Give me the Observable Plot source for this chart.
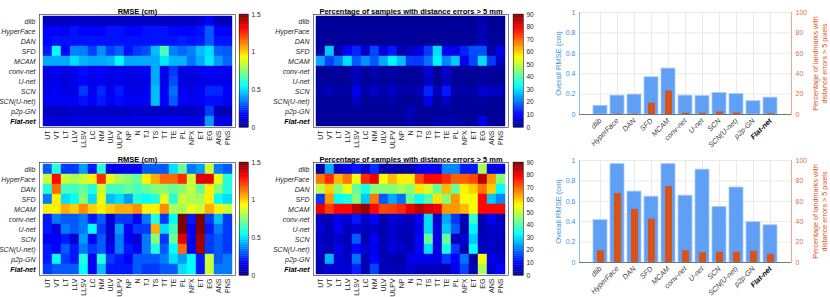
<!DOCTYPE html>
<html><head><meta charset="utf-8">
<script src="https://cdn.jsdelivr.net/npm/d3@7"></script>
<script src="https://cdn.jsdelivr.net/npm/@observablehq/plot@0.6"></script>
<style>
body{margin:0;background:#fff;}
#root{position:relative;width:830px;height:297px;overflow:hidden;}
#root svg{position:absolute;left:0;top:0;overflow:visible;}
</style></head><body><div id="root"></div>
<script>
const landmarks = ["UT","VT","LT","LLV","LLSV","LC","NM","ULV","ULPV","NP","N","TJ","TS","TT","TE","PL","NPX","ET","EG","ANS","PNS"];
const methods = ["dlib","HyperFace","DAN","SFD","MCAM","conv-net","U-net","SCN","SCN(U-net)","p2p-GN","Flat-net"];

// Top row (dataset A)
const rmseA = [
 [0.07,0.07,0.07,0.09,0.09,0.08,0.08,0.08,0.08,0.08,0.08,0.08,0.08,0.08,0.08,0.08,0.08,0.1,0.16,0.06,0.06],
 [0.16,0.17,0.15,0.19,0.17,0.17,0.17,0.19,0.19,0.17,0.17,0.19,0.19,0.19,0.17,0.17,0.17,0.19,0.3,0.17,0.17],
 [0.17,0.19,0.19,0.19,0.19,0.19,0.19,0.19,0.19,0.19,0.19,0.19,0.19,0.19,0.19,0.21,0.19,0.2,0.3,0.19,0.19],
 [0.2,0.55,0.17,0.36,0.36,0.26,0.38,0.26,0.31,0.19,0.25,0.28,0.45,0.66,0.36,0.32,0.36,0.45,0.5,0.31,0.3],
 [0.42,0.42,0.42,0.5,0.44,0.42,0.42,0.44,0.55,0.42,0.42,0.42,0.42,0.52,0.44,0.44,0.34,0.42,0.52,0.4,0.32],
 [0.13,0.15,0.12,0.14,0.18,0.14,0.16,0.13,0.14,0.13,0.13,0.15,0.42,0.14,0.25,0.13,0.12,0.14,0.16,0.14,0.14],
 [0.12,0.14,0.11,0.13,0.17,0.13,0.15,0.12,0.14,0.12,0.12,0.13,0.42,0.13,0.28,0.12,0.11,0.13,0.14,0.13,0.13],
 [0.14,0.15,0.12,0.14,0.25,0.14,0.22,0.14,0.2,0.13,0.13,0.15,0.45,0.15,0.33,0.14,0.13,0.15,0.22,0.22,0.16],
 [0.15,0.16,0.15,0.15,0.19,0.15,0.2,0.15,0.18,0.15,0.15,0.15,0.45,0.16,0.3,0.15,0.14,0.16,0.18,0.18,0.16],
 [0.07,0.07,0.08,0.1,0.09,0.08,0.09,0.08,0.08,0.08,0.1,0.08,0.08,0.08,0.07,0.08,0.08,0.08,0.25,0.06,0.06],
 [0.11,0.11,0.09,0.12,0.12,0.11,0.12,0.11,0.12,0.11,0.12,0.12,0.12,0.14,0.14,0.14,0.12,0.13,0.4,0.12,0.12]
];
const pctA = [
 [1,1,1,1,1,1,1,1,1,1,1,1,1,1,1,1,1,1,3,1,1],
 [1,1,1,1,1,1,1,1,1,1,1,1,1,1,1,1,1,1,4,1,1],
 [1,1,1,1,1,1,1,1,1,1,1,1,1,1,1,1,1,1,4,1,1],
 [2,28,2,10,13,5,16,7,12,2,5,7,15,30,10,8,13,17,17,2,8],
 [25,16,21,30,18,23,18,25,32,27,15,15,20,32,22,28,8,16,30,15,5],
 [1,1,1,1,4,1,3,1,2,1,1,1,6,1,5,1,1,1,1,1,1],
 [1,1,1,1,4,1,2,1,2,1,1,1,5,1,4,1,1,1,1,1,1],
 [2,4,2,2,8,2,5,2,5,2,2,4,13,4,12,2,2,2,6,5,4],
 [1,1,1,1,5,1,2,1,3,1,1,1,8,1,5,1,1,1,2,1,1],
 [1,1,1,1,1,1,1,1,1,1,4,1,1,1,1,1,1,1,1,1,1],
 [1,1,1,1,1,1,1,1,1,1,3,1,1,3,3,3,1,1,8,1,1]
];
const overallRmseA = [0.085,0.185,0.195,0.365,0.45,0.185,0.18,0.21,0.2,0.13,0.165];
const overallPctA = [0,0.5,0.5,11,23,1.2,1.2,2.5,1.5,0,0.8];

// Bottom row (dataset B)
const rmseB = [
 [0.3,0.6,0.25,0.25,0.4,0.2,0.6,0.12,0.15,0.15,0.15,0.3,0.3,0.3,0.5,0.7,0.35,0.4,0.85,0.35,0.3],
 [0.85,1.3,0.85,0.8,0.85,0.95,1.25,0.9,0.8,0.75,0.7,0.95,1.05,1.15,1.15,1.25,0.85,1.35,1.35,0.9,0.6],
 [0.6,1.15,0.65,0.65,0.7,0.6,0.85,0.65,0.65,0.7,0.65,0.7,0.75,0.75,0.7,0.75,0.85,0.7,0.95,0.75,0.6],
 [0.35,0.95,0.5,0.55,0.75,0.5,0.9,0.45,0.5,0.4,0.6,0.55,0.6,0.9,0.6,0.85,0.8,0.8,0.95,0.55,0.5],
 [0.95,0.95,1.05,1.0,1.1,1.0,0.95,1.0,1.05,1.05,1.1,0.95,0.95,1.1,0.8,0.8,0.9,0.85,1.05,0.95,0.85],
 [0.2,0.35,0.3,0.3,0.35,0.2,0.3,0.1,0.25,0.25,0.15,0.35,0.6,0.25,0.55,1.5,0.2,1.5,0.25,0.45,0.25],
 [0.2,0.12,0.35,0.3,0.35,0.55,0.25,0.1,0.4,0.15,0.25,0.25,1.05,0.5,0.65,1.5,0.15,1.5,0.2,0.35,0.25],
 [0.15,0.15,0.2,0.1,0.4,0.15,0.3,0.1,0.35,0.15,0.1,0.35,0.75,0.25,0.7,1.35,0.15,1.45,0.25,0.3,0.25],
 [0.2,0.15,0.3,0.2,0.35,0.25,0.3,0.15,0.35,0.2,0.15,0.35,0.6,0.3,0.55,1.15,0.15,1.45,0.25,0.3,0.25],
 [0.2,0.55,0.25,0.2,0.6,0.15,0.6,0.25,0.2,0.15,0.3,0.3,0.3,0.35,0.5,0.4,0.55,0.2,0.85,0.3,0.35],
 [0.25,0.3,0.3,0.3,0.55,0.15,0.45,0.2,0.2,0.2,0.3,0.25,0.25,0.3,0.3,0.5,0.55,0.2,0.85,0.35,0.35]
];
const pctB = [
 [2,25,5,8,12,5,14,3,3,2,3,8,10,8,22,22,12,12,48,8,8],
 [68,75,62,68,55,75,80,55,62,57,57,72,78,78,75,70,70,72,85,65,45],
 [50,60,45,55,42,35,45,45,45,48,45,58,52,42,62,42,57,60,68,60,33],
 [15,65,33,35,45,28,68,18,25,20,42,33,40,58,45,65,55,55,78,28,22],
 [80,73,78,78,85,88,78,72,73,75,80,85,82,80,65,65,62,55,78,78,78],
 [4,4,8,6,12,5,10,3,6,5,4,10,30,5,25,15,4,38,3,10,4],
 [6,3,10,4,6,4,5,3,6,4,4,8,30,6,28,18,3,32,3,5,5],
 [4,4,5,4,18,3,10,3,6,4,3,10,42,8,42,4,6,28,4,5,4],
 [5,3,8,4,10,6,8,3,7,5,4,10,30,6,35,15,3,33,4,5,4],
 [4,26,6,5,20,3,10,4,3,2,8,8,8,8,15,10,20,2,55,8,6],
 [3,6,6,6,13,3,16,4,4,4,6,4,4,4,3,8,16,3,48,6,10]
];
const overallRmseB = [0.415,0.965,0.695,0.645,0.965,0.655,0.91,0.545,0.735,0.395,0.365];
const overallPctB = [11.5,67.5,52,42.5,74.5,11.5,9.5,10,10,11,8];

const rmseTicksHM = [0,0.5,1,1.5];
const pctTicksHM = [0,10,20,30,40,50,60,70,80,90];
const rmseTicksBar = [0,0.2,0.4,0.6,0.8,1];
const pctTicksBar = [0,20,40,60,80,100];

const W = 830, H = 297;
const root = document.getElementById("root");
const FONT = "'Liberation Sans', Arial, sans-serif";
const style = {background:"transparent", fontFamily: FONT, fontSize:"7px", overflow:"visible", color:"#262626"};
const jetStops = [0,0.11,0.365,0.619,0.873,1];
const jetColors = ["#00008f","#0000ff","#00ffff","#ffff00","#ff0000","#800000"];
const jet = vmax => ({type:"linear", domain: jetStops.map(s=>s*vmax), range: jetColors, interpolate:"rgb", clamp:true});
const margins = (x0,x1,y0,y1) => ({width:W,height:H,marginLeft:x0,marginRight:W-x1,marginTop:y0,marginBottom:H-y1});
const fmt = d => String(d);

function heatmap(values, vmax, title, x0, x1, y0, y1) {
  const data = [];
  methods.forEach((m,i)=>landmarks.forEach((l,j)=>data.push({method:m, landmark:l, value:values[i][j]})));
  root.append(Plot.plot({
    ...margins(x0,x1,y0,y1), style,
    x:{domain:landmarks, padding:0, axis:null},
    y:{domain:methods, padding:0, axis:null},
    color: jet(vmax),
    marks:[
      Plot.cell(data,{x:"landmark", y:"method", fill:"value", stroke:"value", strokeWidth:0.4}),
      Plot.frame({stroke:"#262626", strokeWidth:0.6}),
      Plot.axisX({tickRotate:-90, tickSize:0, tickPadding:3, fontSize:7, label:null, fill:"#262626"}),
      Plot.axisY({ticks:methods.filter(m=>m!=="Flat-net"), tickSize:0, tickPadding:4, fontStyle:"italic", label:null, fill:"#262626"}),
      Plot.axisY({ticks:["Flat-net"], tickSize:0, tickPadding:4, fontStyle:"italic", fontWeight:"bold", label:null, fill:"#000"}),
      Plot.text([title],{frameAnchor:"top", dy:-6, fontWeight:"bold", fontSize:7.5, fill:"#000"})
    ]
  }));
}

function colorbar(vmax, ticks, x0, x1, y0, y1) {
  const n = 64;
  const slices = d3.range(n).map(i=>({a:i*vmax/n, b:(i+1)*vmax/n}));
  root.append(Plot.plot({
    ...margins(x0,x1,y0,y1), style,
    y:{domain:[0,vmax], axis:null},
    color: jet(vmax),
    marks:[
      Plot.rect(slices,{y1:"a", y2:"b", fill:d=>(d.a+d.b)/2, stroke:d=>(d.a+d.b)/2, strokeWidth:0.4}),
      Plot.frame({stroke:"#262626", strokeWidth:0.6}),
      Plot.axisY({anchor:"right", ticks, tickFormat:fmt, tickSize:0, tickPadding:3, fontSize:6.5, label:null, fill:"#262626"})
    ]
  }));
}

const BLUE_AX = "#3d8fdc", ORANGE = "#d95319", ORANGE_AX = "#e0714a";
function bars(rmse, pct, y0, y1) {
  const x0 = 579, x1 = 791;
  const rows = methods.map((m,i)=>({method:m, rmse:rmse[i], pct:pct[i]}));
  root.append(Plot.plot({
    ...margins(x0,x1,y0,y1), style,
    x:{domain:methods, paddingInner:0.2, paddingOuter:0.6, axis:null},
    y:{domain:[0,1], axis:null},
    marks:[
      Plot.gridX({stroke:"#dcdcdc", strokeOpacity:1, strokeWidth:0.6}),
      Plot.gridY({ticks:rmseTicksBar, stroke:"#dcdcdc", strokeOpacity:1, strokeWidth:0.6}),
      Plot.barY(rows,{x:"method", y:"rmse", fill:"#5f9ff5", stroke:"#a8ccf9", strokeWidth:0.8}),
      Plot.ruleY([0],{stroke:"#262626", strokeWidth:0.6}),
      Plot.frame({anchor:"left", stroke:BLUE_AX, strokeWidth:0.6}),
      Plot.axisY({ticks:rmseTicksBar, tickFormat:fmt, tickSize:0, tickPadding:4, fontSize:7, label:null, fill:BLUE_AX}),
      Plot.axisX({ticks:methods.filter(m=>m!=="Flat-net"), tickRotate:-45, tickSize:0, tickPadding:5, fontSize:7.3, fontStyle:"italic", label:null, fill:"#404040"}),
      Plot.axisX({ticks:["Flat-net"], tickRotate:-45, tickSize:0, tickPadding:5, fontSize:7.3, fontStyle:"italic", fontWeight:"bold", label:null, fill:"#000"}),
      Plot.text(["Overall RMSE (cm)"],{frameAnchor:"left", textAnchor:"middle", rotate:-90, dx:-21, fontSize:7.5, fill:BLUE_AX})
    ]
  }));
  root.append(Plot.plot({
    ...margins(x0,x1,y0,y1), style,
    x:{domain:methods, paddingInner:0.6, paddingOuter:0.8, axis:null},
    y:{domain:[0,100], axis:null},
    marks:[
      Plot.barY(rows,{x:"method", y:"pct", fill:ORANGE}),
      Plot.frame({anchor:"right", stroke:ORANGE_AX, strokeWidth:0.6}),
      Plot.axisY({anchor:"right", ticks:pctTicksBar, tickFormat:fmt, tickSize:0, tickPadding:4, fontSize:7, label:null, fill:ORANGE_AX}),
      Plot.text(["Percentage of landmarks with\ndistance errors > 5 pixels"],{frameAnchor:"right", textAnchor:"middle", rotate:-90, dx:28, fontSize:7.2, lineHeight:1.25, fill:ORANGE})
    ]
  }));
}

heatmap(rmseA, 1.5, "RMSE (cm)", 39, 235, 14, 127);
colorbar(1.5, rmseTicksHM, 239, 248, 14, 127);
heatmap(pctA, 90, "Percentage of samples with distance errors > 5 mm", 313, 508, 14, 127);
colorbar(90, pctTicksHM, 513, 523, 14, 127);
bars(overallRmseA, overallPctA, 12, 114);

heatmap(rmseB, 1.5, "RMSE (cm)", 39, 235, 162, 275);
colorbar(1.5, rmseTicksHM, 239, 248, 162, 275);
heatmap(pctB, 90, "Percentage of samples with distance errors > 5 mm", 313, 508, 162, 275);
colorbar(90, pctTicksHM, 513, 523, 162, 275);
bars(overallRmseB, overallPctB, 160, 262);
</script></body></html>
